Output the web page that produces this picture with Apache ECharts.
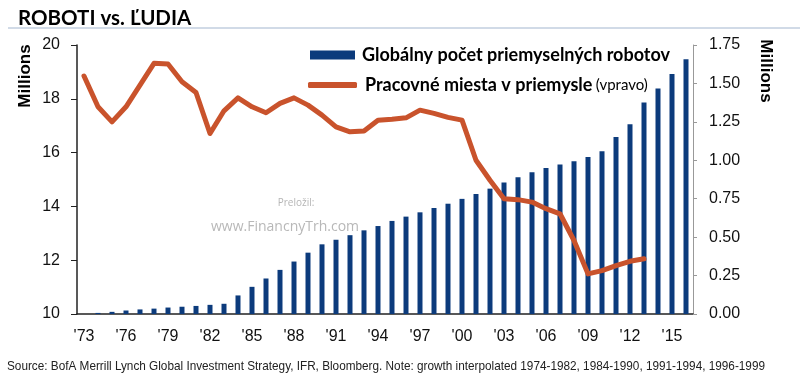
<!DOCTYPE html>
<html>
<head>
<meta charset="utf-8">
<script src="https://cdn.jsdelivr.net/npm/echarts@6/dist/echarts.min.js"></script>
<style>
html,body{margin:0;padding:0;background:#fff;}
#chart{width:800px;height:381px;}
</style>
</head>
<body>
<div id="chart"></div>
<script>
// ---- data ----
const years = [1973,1974,1975,1976,1977,1978,1979,1980,1981,1982,1983,1984,1985,1986,1987,1988,1989,1990,1991,1992,1993,1994,1995,1996,1997,1998,1999,2000,2001,2002,2003,2004,2005,2006,2007,2008,2009,2010,2011,2012,2013,2014,2015,2016];
// Global number of industrial robots (millions, left axis)
const robots = [null,10.04,10.08,10.13,10.17,10.2,10.24,10.27,10.3,10.34,10.38,10.69,11.01,11.32,11.64,11.95,12.28,12.59,12.76,12.93,13.11,13.27,13.46,13.62,13.78,13.94,14.10,14.28,14.46,14.66,14.89,15.08,15.27,15.43,15.56,15.68,15.84,16.05,16.58,17.05,17.86,18.38,18.92,19.47];
// Manufacturing jobs (millions, right axis)
const jobs = [1.548,1.348,1.25,1.348,1.489,1.631,1.626,1.511,1.441,1.174,1.322,1.406,1.348,1.309,1.37,1.406,1.359,1.294,1.217,1.185,1.191,1.261,1.267,1.276,1.326,1.305,1.279,1.261,1.0,0.87,0.75,0.744,0.728,0.685,0.652,0.478,0.261,0.282,0.315,0.343,0.359,null,null,null];
const leftTicks = [10,20,2];
const rightTicks = [0,1.75,0.25];
const seriesNames = ['Globálny počet priemyselných robotov','Pracovné miesta v priemysle'];
const titleText = 'ROBOTI vs. ĽUDIA';
const sourceText = 'Source: BofA Merrill Lynch Global Investment Strategy, IFR, Bloomberg. Note: growth interpolated 1974-1982, 1984-1990, 1991-1994, 1996-1999';

const BAR = '#0c3b7c', LINE = '#c9532c';
const chart = echarts.init(document.getElementById('chart'), null, {renderer:'canvas'});
chart.setOption({
  animation:false,
  backgroundColor:'#fff',
  title:{text:titleText,left:13,top:3,textStyle:{fontFamily:'Lato',fontWeight:'bold',fontSize:20.5,color:'#000'}},
  grid:{left:77,right:107,top:45,bottom:67,containLabel:false},
  legend:[
    {data:[seriesNames[0]],left:310,top:46,padding:0,itemWidth:45,itemHeight:9,icon:'rect',
     textStyle:{fontFamily:'Lato',fontWeight:'bold',fontSize:18,color:'#000',padding:[0,0,0,2]}},
    {data:[seriesNames[1]],left:308,top:76,padding:0,itemWidth:49,itemHeight:6,icon:'roundRect',
     formatter:n=>'{b|'+n+'} {n|(vpravo)}',
     textStyle:{padding:[0,0,0,3],rich:{b:{fontFamily:'Lato',fontWeight:'bold',fontSize:18,color:'#000'},n:{fontFamily:'Lato',fontSize:15,color:'#000'}}}}
  ],
  xAxis:{type:'category',data:years,boundaryGap:true,
    axisLine:{lineStyle:{color:'#222',width:1.5}},
    axisTick:{interval:2,length:5,lineStyle:{color:'#222'}},
    axisLabel:{interval:2,margin:15,fontFamily:'Liberation Sans',fontSize:16,color:'#111',formatter:v=>"'"+String(v).slice(2)}},
  yAxis:[
    {type:'value',min:leftTicks[0],max:leftTicks[1],interval:leftTicks[2],position:'left',
     splitLine:{show:false},axisLine:{show:true,lineStyle:{color:'#222',width:1.5}},
     axisTick:{show:true,length:6,lineStyle:{color:'#222'}},
     axisLabel:{margin:17,fontFamily:'Liberation Sans',fontSize:16,color:'#111'}},
    {type:'value',min:rightTicks[0],max:rightTicks[1],interval:rightTicks[2],position:'right',
     splitLine:{show:false},axisLine:{show:true,lineStyle:{color:'#999',width:1}},
     axisTick:{show:true,length:4,lineStyle:{color:'#999'}},
     axisLabel:{margin:16,fontFamily:'Liberation Sans',fontSize:16,color:'#111',formatter:v=>v.toFixed(2)}}
  ],
  series:[
    {name:seriesNames[0],type:'bar',data:robots,yAxisIndex:0,barWidth:5,itemStyle:{color:BAR},z:2},
    {name:seriesNames[1],type:'line',data:jobs,yAxisIndex:1,symbol:'none',connectNulls:false,
     lineStyle:{color:LINE,width:5,cap:'round',join:'round'},itemStyle:{color:LINE},z:5}
  ],
  graphic:[
    {type:'line',shape:{x1:8,y1:28,x2:800,y2:28},style:{stroke:'#a3b6cf',lineWidth:1},silent:true},
    {type:'text',x:25,y:76,rotation:Math.PI/2,style:{text:'Millions',fontFamily:'Liberation Sans',fontWeight:'bold',fontSize:17,fill:'#000',textAlign:'center',textVerticalAlign:'middle'}},
    {type:'text',x:766,y:71,rotation:-Math.PI/2,style:{text:'Millions',fontFamily:'Liberation Sans',fontWeight:'bold',fontSize:17,fill:'#000',textAlign:'center',textVerticalAlign:'middle'}},
    {type:'text',x:296,y:203,style:{text:'Preložil:',fontFamily:'Open Sans',fontSize:10,fill:'#b5b5b5',textAlign:'center',textVerticalAlign:'middle'}},
    {type:'text',x:285,y:227,style:{text:'www.FinancnyTrh.com',fontFamily:'Open Sans',fontSize:14,fill:'#b8b8b8',textAlign:'center',textVerticalAlign:'middle'}},
    {type:'text',x:7,y:366,scaleX:0.905,style:{text:sourceText,fontFamily:'Liberation Sans',fontSize:13,fill:'#222',textAlign:'left',textVerticalAlign:'middle'}}
  ]
});
</script>
</body>
</html>
